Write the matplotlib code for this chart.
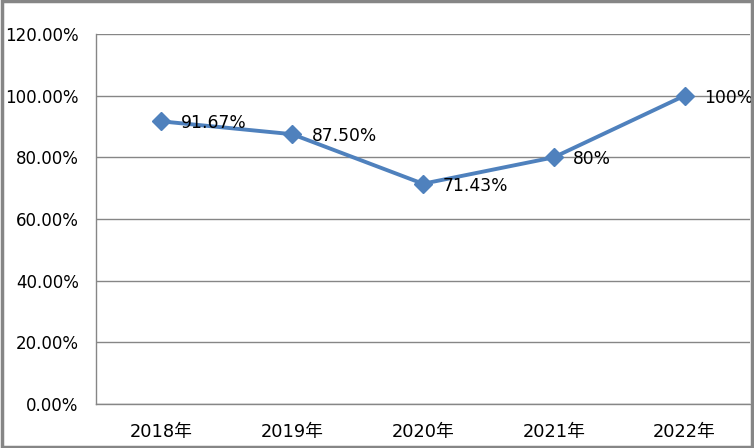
import matplotlib.pyplot as plt
from matplotlib.patches import Rectangle

plt.rcParams['font.family'] = ['DejaVu Sans', 'Noto Sans CJK SC']

years = ['2018年', '2019年', '2020年', '2021年', '2022年']
rates = [91.67, 87.50, 71.43, 80, 100]
labels = ['91.67%', '87.50%', '71.43%', '80%', '100%']
yticks = [0, 20, 40, 60, 80, 100, 120]

fig = plt.figure(figsize=(7.54, 4.48), dpi=100)
ax = fig.add_axes([96/754, 44/448, 654/754, 370/448])

x = list(range(len(years)))
ax.plot(x, rates, color='#4F81BD', lw=2.8, marker='D', ms=9, zorder=3)
for xi, v, t in zip(x, rates, labels):
    ax.annotate(t, (xi, v), xytext=(14, -1.5), textcoords='offset points',
                va='center', ha='left', fontsize=12.3, color='black', zorder=4)

ax.set_xlim(-0.5, len(years) - 0.5)
ax.set_ylim(0, 120)
ax.set_yticks(yticks)
ax.set_yticklabels(['%.2f%%' % v for v in yticks], fontsize=12)
ax.set_xticks(x)
ax.set_xticklabels(years, fontsize=12.8, family=['DejaVu Sans', 'Noto Sans CJK SC'])
ax.tick_params(axis='y', length=0, pad=12.5)
ax.tick_params(axis='x', length=0, pad=14)
ax.grid(axis='y', color='#868686', lw=1)
ax.set_axisbelow(True)
for s in ['top', 'right']:
    ax.spines[s].set_visible(False)
for s in ['left', 'bottom']:
    ax.spines[s].set_color('#868686')
    ax.spines[s].set_linewidth(1)

fig.patches.append(Rectangle((0.002, 0.003), 0.995, 0.994, transform=fig.transFigure,
                             fill=False, edgecolor='#868686', lw=2.5))

fig.savefig('out.png', dpi=100)
